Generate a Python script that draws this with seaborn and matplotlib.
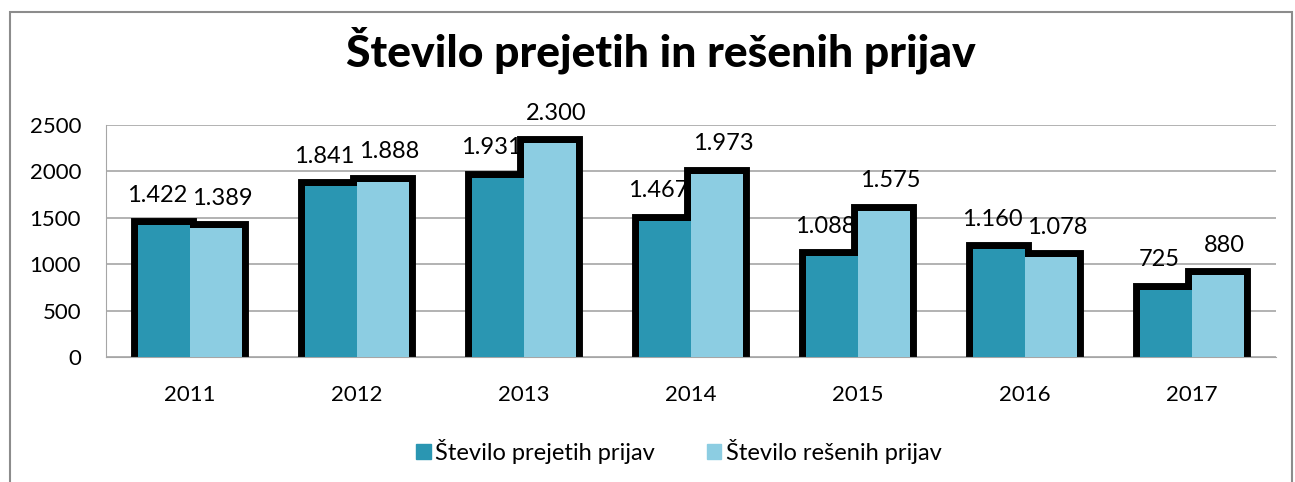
import matplotlib
matplotlib.use("Agg")
import matplotlib.pyplot as plt
import matplotlib.patches as mpatches
import seaborn as sns
import pandas as pd

# data
years = ["2011", "2012", "2013", "2014", "2015", "2016", "2017"]
prejete = [1422, 1841, 1931, 1467, 1088, 1160, 725]
resene = [1389, 1888, 2300, 1973, 1575, 1078, 880]
series = ["Število prejetih prijav", "Število rešenih prijav"]
colors = ["#2a96b2", "#8ccde2"]

df = pd.DataFrame({
    "leto": years * 2,
    "vrednost": prejete + resene,
    "serija": [series[0]] * len(years) + [series[1]] * len(years),
})

sns.set_style("white")
plt.rcParams["font.family"] = ["Lato", "DejaVu Sans"]

fig = plt.figure(figsize=(12.95, 4.82), dpi=100)
ax = fig.add_axes([0.082, 0.259, 0.903, 0.482])

# black "shadow" outline behind the bars
sns.barplot(data=df, x="leto", y="vrednost", hue="serija", palette=colors,
            saturation=1, width=0.62, edgecolor="black", linewidth=10,
            legend=False, ax=ax, zorder=2)
sns.barplot(data=df, x="leto", y="vrednost", hue="serija", palette=colors,
            saturation=1, width=0.62, linewidth=0, ax=ax, zorder=3)

ax.set_ylim(0, 2500)
ax.set_yticks(range(0, 2501, 500))
ax.yaxis.grid(True, color="#a6a6a6", linewidth=1.2, zorder=0)
ax.set_axisbelow(True)
for s in ["top", "right"]:
    ax.spines[s].set_visible(False)
ax.spines["bottom"].set_color("#a6a6a6")
ax.spines["left"].set_color("#a6a6a6")
ax.set_xlabel("")
ax.set_ylabel("")
ax.tick_params(axis="both", labelsize=16, length=0, labelcolor="black")
ax.tick_params(axis="x", pad=20)
ax.tick_params(axis="y", pad=18)

# data labels with dot as thousand separator
for i, cont in enumerate(ax.containers[-2:]):
    for bar, v in zip(cont, prejete if i == 0 else resene):
        x = bar.get_x() + bar.get_width() / 2 + (-0.04 if i == 0 else 0.04)
        txt = f"{v:,}".replace(",", ".")
        ax.annotate(txt, (x, v), xytext=(0, 14), textcoords="offset points",
                    ha="center", va="bottom", fontsize=17, color="black",
                    zorder=5)

handles = [mpatches.Patch(color=c, label=l) for c, l in zip(colors, series)]
ax.legend(handles=handles, loc="upper center", bbox_to_anchor=(0.49, -0.26),
          ncol=2, frameon=False, fontsize=17, handlelength=0.6, handleheight=0.6,
          handletextpad=0.2, columnspacing=2.2, labelcolor="black")

fig.suptitle("Število prejetih in rešenih prijav", fontsize=32, fontweight="black",
             color="black", x=0.51, y=0.945)

# outer chart frame
fig.patches.append(mpatches.Rectangle((10 / 1295, -0.1), 1282 / 1295, 1 - 12 / 482 + 0.1,
                                      transform=fig.transFigure, fill=False,
                                      edgecolor="#8c8c8c", linewidth=1.5))

fig.savefig("out.png", dpi=100)
